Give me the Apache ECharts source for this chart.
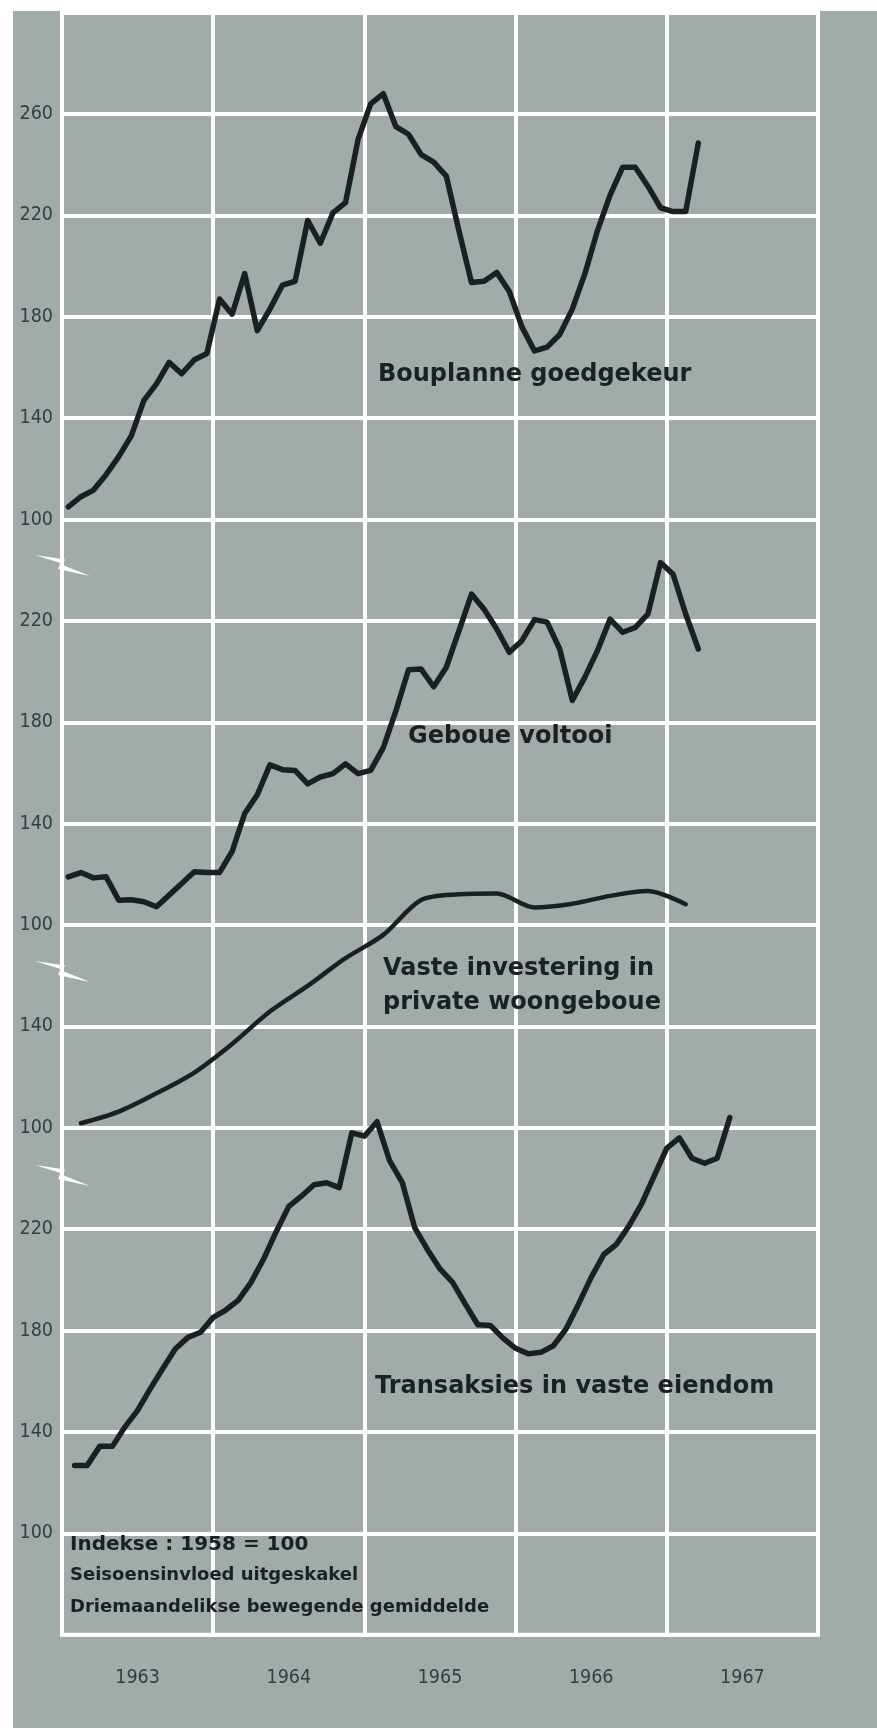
<!DOCTYPE html>
<html>
<head>
<meta charset="utf-8">
<title>Bouplanne, geboue, investering en transaksies 1963-1967</title>
<script src="https://cdn.jsdelivr.net/npm/echarts@6/dist/echarts.min.js"></script>
<style>
  html, body { margin: 0; padding: 0; background: #fff; }
  #chart { width: 877px; height: 1728px; }
</style>
</head>
<body>
<div id="chart"></div>
<script>
  // jaar-kolomme onderaan
  const years = ['1963', '1964', '1965', '1966', '1967'];

  // Bouplanne goedgekeur, maandeliks Jan 1963 - Mrt 1967 (1958 = 100)
  const bouplanne = [105, 109, 111.6, 117.7, 124.8, 133, 147, 153.5, 162, 157.5, 163, 165.5,
    187, 181, 197, 174.5, 183, 192.5, 194, 218, 209, 221, 225, 250,
    264, 268, 255, 252, 244, 241, 235.5, 214, 193.5, 194, 197.5, 190,
    176, 166.5, 168, 173, 183, 197, 214, 228, 239, 239, 231.5, 223,
    221.5, 221.5, 248.5];

  // Geboue voltooi, maandeliks Jan 1963 - Mrt 1967
  const geboue = [119, 120.7, 118.6, 119, 109.8, 110, 109.2, 107.2, 111.8, 116.4, 121, 120.7,
    120.7, 129, 144, 151.4, 163.2, 161.3, 161, 155.7, 158.4, 159.7, 163.6, 159.7,
    161, 170, 184.5, 200.7, 201, 194, 201.7, 216, 230.6, 224.6, 216.8, 207.6,
    212.2, 220.5, 219.5, 208.9, 188.6, 197.8, 208.3, 220.7, 215.5, 217.4, 222.7, 243,
    238.4, 222.7, 208.9];

  // Vaste investering in private woongeboue, kwartaalliks K1 1963 - K1 1967
  const investering = [101.8, 106.4, 113.6, 121.8, 133.1, 145.9, 156, 166.9, 176.1,
    189.9, 192.1, 192.4, 186.9, 188.4, 191.5, 193.4, 188.2];

  // Transaksies in vaste eiendom, maandeliks Feb 1963 - Jun 1967
  const transaksies = [126.8, 126.8, 134.3, 134.3, 142, 148.5, 157, 165, 172.8, 177.3, 179.3,
    185.2, 188.1, 192, 199, 208.2, 219, 229, 233, 237.5, 238.3, 236.4, 258,
    256.7, 262.4, 247, 238.5, 220.5, 212, 204.3, 199, 190.5, 182.3, 182, 177,
    173, 170.8, 171.4, 174, 180.6, 190.5, 201, 210, 214, 221.3, 230, 241,
    252, 256, 248, 246, 248, 264];

  // sigbare skaalwaardes per paneel
  const ticksBouplanne = [100, 140, 180, 220, 260];
  const ticksGeboue = [100, 140, 180, 220];
  const ticksInvestering = [100, 140];
  const ticksTransaksies = [100, 140, 180, 220];

  // tydas: maande sedert 1 Jan 1963
  const toPoints = (vals, first, step) => vals.map((v, i) => [first + i * step, v]);

  const LEFT = 62, WIDTH = 756, TOP = 12.6, ROW = 101.38, ROWS = 16;
  const LINE = '#1a2022';
  const LABEL = '#363d3f';
  const narrow = "'Liberation Sans Narrow', 'DejaVu Sans Condensed', 'Roboto', sans-serif";
  const bold = "'DejaVu Sans', 'Noto Sans', sans-serif";

  // panele: beginry, aantal rye, boonste waarde van die skaal
  const panels = [
    { name: 'Bouplanne goedgekeur', row: 0, rows: 5, max: 300, ticks: ticksBouplanne,
      data: toPoints(bouplanne, 0.5, 1), width: 5.5 },
    { name: 'Geboue voltooi', row: 5, rows: 4, max: 260, ticks: ticksGeboue,
      data: toPoints(geboue, 0.5, 1), width: 5.5 },
    { name: 'Vaste investering in private woongeboue', row: 8, rows: 3, max: 220, ticks: ticksInvestering,
      data: toPoints(investering, 1.5, 3), width: 4.5, smooth: 0.3 },
    { name: 'Transaksies in vaste eiendom', row: 10, rows: 5, max: 300, ticks: ticksTransaksies,
      data: toPoints(transaksies, 1, 1), width: 5.5 }
  ];

  const grids = [{
    left: LEFT, top: TOP, width: WIDTH, height: ROW * ROWS,
    show: true, borderColor: '#fff', borderWidth: 4, backgroundColor: 'transparent'
  }];
  const xAxes = [{
    gridIndex: 0, type: 'category', data: years, boundaryGap: true,
    axisLine: { show: false }, axisTick: { show: false },
    axisLabel: { margin: 33, fontFamily: narrow, fontSize: 19.5, color: LABEL },
    splitLine: { show: true, lineStyle: { color: '#fff', width: 4 } }
  }];
  const yAxes = [{
    gridIndex: 0, type: 'value', min: 0, max: ROWS, interval: 1,
    axisLine: { show: false }, axisTick: { show: false }, axisLabel: { show: false },
    splitLine: { show: true, lineStyle: { color: '#fff', width: 4 } }
  }];
  const series = [];

  panels.forEach((p, i) => {
    const gi = i + 1;
    grids.push({ left: LEFT, top: TOP + p.row * ROW, width: WIDTH, height: p.rows * ROW });
    xAxes.push({ gridIndex: gi, type: 'value', min: 0, max: 60, show: false });
    yAxes.push({
      gridIndex: gi, type: 'value', min: 100, max: p.max, interval: 40,
      axisLine: { show: false }, axisTick: { show: false }, splitLine: { show: false },
      axisLabel: {
        margin: 9, fontFamily: narrow, fontSize: 19.5, color: LABEL,
        verticalAlign: 'middle', padding: [0, 0, 15, 0],
        formatter: v => (p.ticks.indexOf(v) >= 0 ? String(v) : '')
      }
    });
    series.push({
      name: p.name, type: 'line', xAxisIndex: gi, yAxisIndex: gi,
      data: p.data, showSymbol: false, smooth: p.smooth || false, clip: false, z: 3,
      lineStyle: { color: LINE, width: p.width, cap: 'round', join: 'round' }
    });
  });

  // breukmerkies op die linkerkant
  const breakMark = cy => ({
    type: 'polygon', z: 50, silent: true,
    shape: { points: [[35, cy - 11], [65, cy - 6.5], [62.5, cy - 1], [90, cy + 10], [58, cy + 3], [60.5, cy - 3]] },
    style: { fill: '#fff' }
  });

  const label = (text, x, baseline, size) => ({
    type: 'text', z: 60, silent: true, x: x, y: baseline - 0.36 * size,
    style: { text: text, fill: '#1b2123', font: 'bold ' + size + 'px ' + bold, verticalAlign: 'middle' }
  });

  const graphic = [
    { type: 'rect', z: 40, silent: true, shape: { x: 0, y: 0, width: 877, height: 11 }, style: { fill: '#fff' } },
    { type: 'rect', z: 40, silent: true, shape: { x: 0, y: 0, width: 13, height: 1728 }, style: { fill: '#fff' } },
    breakMark(566), breakMark(972), breakMark(1176),
    label('Bouplanne goedgekeur', 378, 383, 24),
    label('Geboue voltooi', 408, 745, 24),
    label('Vaste investering in', 383, 977, 24),
    label('private woongeboue', 383, 1011, 24),
    label('Transaksies in vaste eiendom', 375, 1395, 24),
    label('Indekse : 1958 = 100', 70, 1552, 20),
    label('Seisoensinvloed uitgeskakel', 70, 1582, 18),
    label('Driemaandelikse bewegende gemiddelde', 70, 1614, 18)
  ];

  const chart = echarts.init(document.getElementById('chart'), null, { renderer: 'canvas' });
  chart.setOption({
    backgroundColor: '#a1abaa',
    animation: false,
    grid: grids,
    xAxis: xAxes,
    yAxis: yAxes,
    series: series,
    graphic: graphic
  });
</script>
</body>
</html>
